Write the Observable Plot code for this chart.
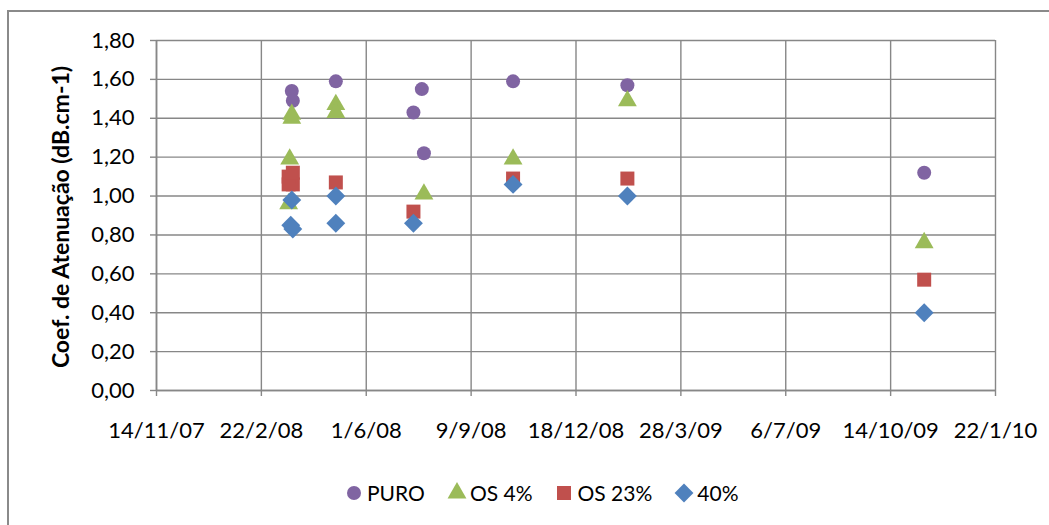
<!DOCTYPE html>
<html><head><meta charset="utf-8">
<script src="https://cdn.jsdelivr.net/npm/d3@7"></script>
<script src="https://cdn.jsdelivr.net/npm/@observablehq/plot@0.6"></script>
<style>
html,body{margin:0;padding:0;background:#fff;overflow:hidden;}
#wrap{position:relative;width:1049px;height:525px;font-family:Lato,"Open Sans",sans-serif;color:#000;}
#frame{position:absolute;left:7px;top:10px;width:1200px;height:700px;border-left:2px solid #8a8a8a;border-top:2px solid #8a8a8a;}
#chart{position:absolute;left:0;top:0;}
#ytitle{position:absolute;left:60px;top:217px;transform:translate(-50%,-50%) rotate(-90deg);font-weight:bold;font-size:23px;white-space:nowrap;}
#legend{position:absolute;top:480px;left:346px;display:flex;align-items:center;font-size:21px;}
#legend .item{display:flex;align-items:center;margin-right:24px;}
#legend svg{margin-right:5px;overflow:visible;}
</style>
</head><body>
<div id="wrap">
  <div id="frame"></div>
  <div id="chart"></div>
  <div id="ytitle">Coef. de Atenuação (dB.cm-1)</div>
  <div id="legend"></div>
</div>
<script>
// Series names and colours
const seriesNames = ["PURO", "OS 4%", "OS 23%", "40%"];
const seriesColors = ["#8064A2", "#9BBB59", "#C0504D", "#4F81BD"];
const seriesSymbols = ["circle", "triangle", "square", "diamond2"];

// PURO
const puroDates  = ["2008-03-22","2008-03-23","2008-05-03","2008-07-16","2008-07-24","2008-07-26","2008-10-19","2009-02-05","2009-11-15"];
const puroValues = [1.54, 1.49, 1.59, 1.43, 1.55, 1.22, 1.59, 1.57, 1.12];
// OS 4%
const os4Dates  = ["2008-03-20","2008-03-19","2008-03-22","2008-03-22","2008-05-03","2008-05-03","2008-07-26","2008-10-19","2009-02-05","2009-11-15"];
const os4Values = [1.19, 0.96, 1.42, 1.40, 1.47, 1.43, 1.01, 1.19, 1.49, 0.76];
// OS 23%
const os23Dates  = ["2008-03-19","2008-03-23","2008-03-19","2008-03-23","2008-05-03","2008-07-16","2008-10-19","2009-02-05","2009-11-15"];
const os23Values = [1.06, 1.06, 1.10, 1.12, 1.07, 0.92, 1.09, 1.09, 0.57];
// 40%
const p40Dates  = ["2008-03-22","2008-03-21","2008-03-23","2008-05-03","2008-05-03","2008-07-16","2008-10-19","2009-02-05","2009-11-15"];
const p40Values = [0.98, 0.85, 0.83, 1.00, 0.86, 0.86, 1.06, 1.00, 0.40];

// Axis ticks
const xTickDates = ["2007-11-14","2008-02-22","2008-06-01","2008-09-09","2008-12-18","2009-03-28","2009-07-06","2009-10-14","2010-01-22"];
const yTicks = [0, 0.2, 0.4, 0.6, 0.8, 1.0, 1.2, 1.4, 1.6, 1.8];

const seriesDates = [puroDates, os4Dates, os23Dates, p40Dates];
const seriesValues = [puroValues, os4Values, os23Values, p40Values];
const radii = [7, 7, 7.9, 8.5];

const xt = xTickDates.map(d => new Date(d));
const fmtDate = d3.utcFormat("%-d/%-m/%y");
const fmtY = v => v.toFixed(2).replace(".", ",");
const grid = "#878787";

const marks = [
  Plot.gridY(yTicks, {stroke: grid, strokeOpacity: 1, strokeWidth: 1.4}),
  Plot.gridX(xt, {stroke: grid, strokeOpacity: 1, strokeWidth: 1.4}),
  Plot.axisY(yTicks, {tickFormat: fmtY, tickSize: 6, tickPadding: 16, stroke: grid, strokeWidth: 1.4, fontSize: 22, label: null}),
  Plot.axisX(xt, {tickFormat: fmtDate, tickSize: 6, tickPadding: 26, stroke: grid, strokeWidth: 1.4, fontSize: 22, label: null}),
  Plot.ruleY([0], {stroke: grid, strokeWidth: 1.6}),
  Plot.ruleX([xt[0]], {stroke: grid, strokeWidth: 1.6})
];
seriesNames.forEach((name, i) => {
  const data = seriesDates[i].map((d, j) => ({date: new Date(d), value: seriesValues[i][j], series: name}));
  marks.push(Plot.dot(data, {x: "date", y: "value", symbol: () => seriesSymbols[i], fill: seriesColors[i], stroke: "none", r: radii[i]}));
});

const chart = Plot.plot({
  width: 1049,
  height: 460,
  marginLeft: 156,
  marginRight: 54,
  marginTop: 40,
  marginBottom: 70,
  style: {fontFamily: "Lato, 'Open Sans', sans-serif", fontSize: "22px", color: "#000", background: "transparent", overflow: "visible"},
  x: {type: "utc", domain: [xt[0], xt[xt.length - 1]]},
  y: {domain: [0, 1.8]},
  symbol: {type: "identity"},
  marks
});
document.getElementById("chart").appendChild(chart);

// Legend
const legend = d3.select("#legend");
seriesNames.forEach((name, i) => {
  const item = legend.append("div").attr("class", "item");
  const svg = item.append("svg").attr("width", 16).attr("height", 16);
  const symType = {circle: d3.symbolCircle, triangle: d3.symbolTriangle, square: d3.symbolSquare, diamond2: d3.symbolDiamond2}[seriesSymbols[i]];
  const r = radii[i];
  svg.append("path").attr("transform", "translate(8,8)")
    .attr("d", d3.symbol(symType, Math.PI * r * r)())
    .attr("fill", seriesColors[i]);
  item.append("span").text(name);
});
</script>
</body></html>
